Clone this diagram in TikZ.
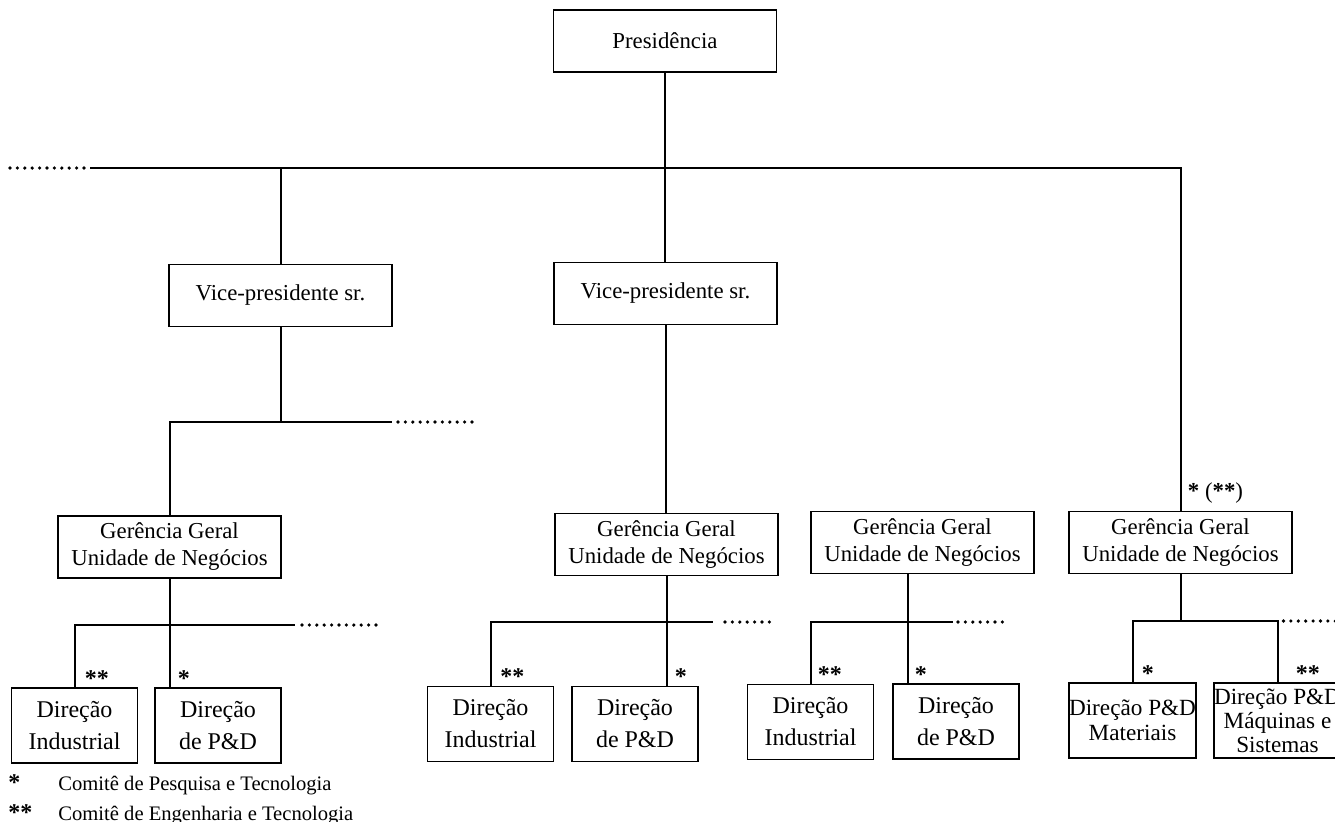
\documentclass[tikz,border=0pt]{standalone}
\usepackage{fontspec}
\setmainfont{Liberation Serif}
\usepackage{tikz}

\tikzset{
  box/.style={draw,line width=0.9pt,inner sep=0pt,align=center},
  bigbox/.style={box,minimum width=111.5pt,minimum height=31pt,font=\fontsize{11.4}{13.5}\selectfont},
  dirbox/.style={box,minimum width=63pt,minimum height=37.5pt,font=\fontsize{12}{16}\selectfont},
  link/.style={line width=1pt},
  dots/.style={line width=1.8pt,line cap=round,dash pattern=on 0pt off 3.7pt},
  astk/.style={inner sep=0pt,anchor=base west,font=\fontsize{12}{12}\selectfont\bfseries}
}

\begin{document}
\begin{tikzpicture}[x=0.5pt,y=-0.5pt]
    \useasboundingbox (0,0) rectangle (1335,821);
    % upper levels
    \node[bigbox] (pres) at (665,41) {Presidência};
    \node[bigbox] (vpa) at (280.5,295.5) {Vice-presidente sr.};
    \node[bigbox] (vpb) at (665.5,293.5) {Vice-presidente sr.};
    \node[bigbox] (gga) at (169.5,547) {Gerência Geral\\Unidade de Negócios};
    \node[bigbox] (ggb) at (666.5,544.5) {Gerência Geral\\Unidade de Negócios};
    \node[bigbox] (ggc) at (922.5,542.5) {Gerência Geral\\Unidade de Negócios};
    \node[bigbox] (ggd) at (1180.5,542.5) {Gerência Geral\\Unidade de Negócios};
    % directorates
    \node[dirbox] (dia) at (74.5,725.5) {Direção\\Industrial};
    \node[dirbox] (dpa) at (218,725.5) {Direção\\de P\&D};
    \node[dirbox] (dib) at (490.5,724) {Direção\\Industrial};
    \node[dirbox] (dpb) at (635,724) {Direção\\de P\&D};
    \node[dirbox] (dic) at (810.5,722) {Direção\\Industrial};
    \node[dirbox] (dpc) at (956,721.5) {Direção\\de P\&D};
    \node[dirbox,font=\fontsize{11.6}{12.5}\selectfont] (dpm) at (1132.5,720.5) {Direção P\&D\\Materiais};
    \node[dirbox,font=\fontsize{11.6}{12}\selectfont] (dpms) at (1277.5,720.5) {Direção P\&D\\Máquinas e\\Sistemas};
    % bar ends
    \coordinate (tl) at (90,168);
    \coordinate (va) at (392,422);
    \coordinate (ba) at (295,625);
    \coordinate (bb) at (713,622);
    \coordinate (bc) at (953,622);
    \coordinate (bd) at (1277.5,621);
    \coordinate (fc) at ([xshift=-7.5pt]ggc.south);
    % top level lines
    \draw[link] (tl) -| (ggd.north);
    \draw[dots] ([xshift=-3pt]tl) -- ++(-75,0);
    \draw[link] (pres.south) -- (pres.south |- vpb.north);
    \draw[link] (vpa.north |- tl) -- (vpa.north);
    \draw[link] (vpa.south) -- (vpa.south |- va);
    \draw[link] (gga.north) |- (va);
    \draw[dots] ([xshift=3pt]va) -- ++(76,0);
    \draw[link] (vpb.south) -- (vpb.south |- ggb.north);
    % business units
    \draw[link] (dia.north) |- (ba);
    \draw[link] (gga.south) -- (gga.south |- dpa.north);
    \draw[dots] ([xshift=3.5pt]ba) -- ++(77,0);
    \draw[link] (dib.north) |- (bb);
    \draw[link] (ggb.south) -- (ggb.south |- dpb.north);
    \draw[dots] ([xshift=6pt]bb) -- ++(46,0);
    \draw[link] (dic.north) |- (bc);
    \draw[link] (fc) -- (fc |- dpc.north);
    \draw[dots] ([xshift=2.5pt]bc) -- ++(48,0);
    \draw[link] (dpm.north) |- (bd) -- (dpms.north);
    \draw[link] (ggd.south) -- (ggd.south |- bd);
    \draw[dots] ([xshift=3pt]bd) -- ++(58,0);
    % committee marks
    \coordinate (ma) at (gga.south |- dpa.north);
    \coordinate (mb) at (ggb.south |- dpb.north);
    \coordinate (mc) at (fc |- dpc.north);
    \foreach \p/\s/\d in {dia.north/{**}/5, ma/{*}/4, dib.north/{**}/4.75, mb/{*}/4,
                          dic.north/{**}/3.5, mc/{*}/3.5, dpm.north/{*}/4.5, dpms.north/{**}/9}
      \node[astk] at ([xshift=\d pt,yshift=0.5pt]\p) {\s};
    \node[astk,font=\fontsize{11.4}{11}\selectfont] (topmark) at ([xshift=3.5pt,yshift=6pt]ggd.north) {\textbf{*} (\textbf{**})};
    % legend
    \node[astk] (ka) at (8,790) {*};
    \node[anchor=base west,inner sep=0pt,font=\fontsize{10.3}{12}\selectfont] (la) at (58,790) {Comitê de Pesquisa e Tecnologia};
    \node[astk] (kb) at (8,820) {**};
    \node[anchor=base west,inner sep=0pt,font=\fontsize{10.3}{12}\selectfont] (lb) at (58,820) {Comitê de Engenharia e Tecnologia};
\end{tikzpicture}
\end{document}
